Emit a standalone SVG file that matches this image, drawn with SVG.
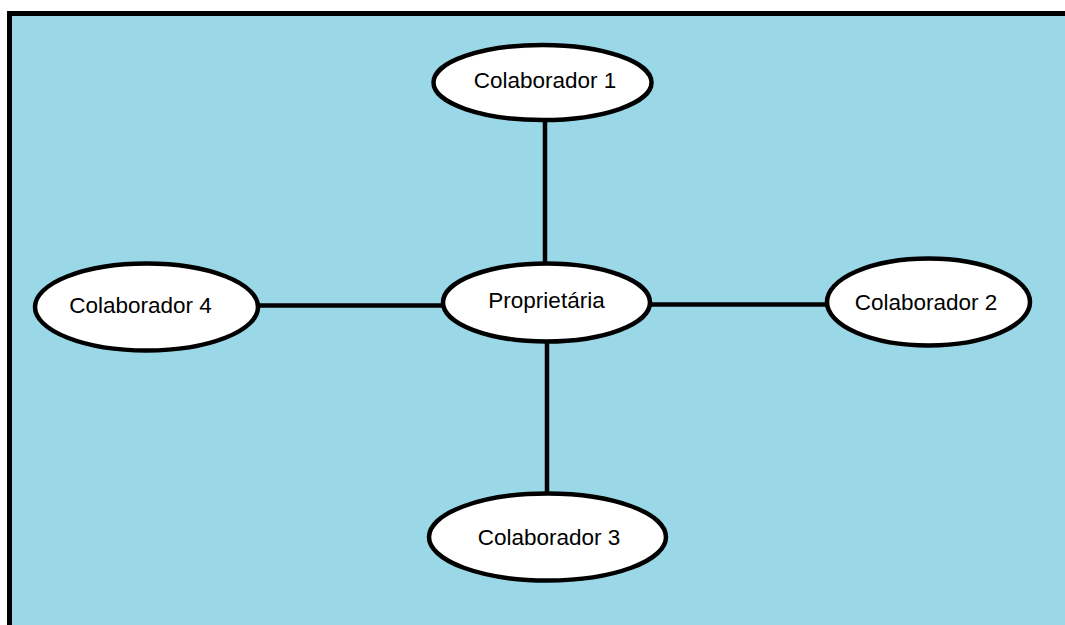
<svg xmlns="http://www.w3.org/2000/svg" width="1065" height="625" viewBox="0 0 1065 625">
<style>
.node{fill:#ffffff;stroke:#000000;stroke-width:4.5}
.edge{stroke:#000000;stroke-width:4.5;fill:none}
.lbl{font-family:"Liberation Sans",Arial,sans-serif;font-size:22.5px;fill:#000000;text-anchor:middle}
</style>
<rect x="0" y="0" width="1065" height="625" fill="#ffffff"/>
<rect x="9.5" y="13.5" width="1070" height="630" fill="#9ad8e8" stroke="#000000" stroke-width="5"/>
<g id="connectors">
<line class="edge" x1="545" y1="120" x2="545" y2="264"/>
<line class="edge" x1="547" y1="341" x2="547" y2="494"/>
<line class="edge" x1="258" y1="305.5" x2="443" y2="305.5"/>
<line class="edge" x1="650" y1="304.5" x2="827" y2="304.5"/>
</g>
<g id="colaborador1">
<ellipse class="node" cx="542.5" cy="82.5" rx="109" ry="37.5"/>
<text class="lbl" x="545" y="88">Colaborador 1</text>
</g>
<g id="proprietaria">
<ellipse class="node" cx="546.5" cy="302.5" rx="103.5" ry="39"/>
<text class="lbl" x="546.5" y="308">Proprietária</text>
</g>
<g id="colaborador4">
<ellipse class="node" cx="146.5" cy="307" rx="111.5" ry="43.5"/>
<text class="lbl" x="140.5" y="313">Colaborador 4</text>
</g>
<g id="colaborador2">
<ellipse class="node" cx="928.5" cy="302" rx="101.5" ry="43.5"/>
<text class="lbl" x="926" y="310">Colaborador 2</text>
</g>
<g id="colaborador3">
<ellipse class="node" cx="547.5" cy="537" rx="118.5" ry="43.5"/>
<text class="lbl" x="549" y="545">Colaborador 3</text>
</g>
</svg>
